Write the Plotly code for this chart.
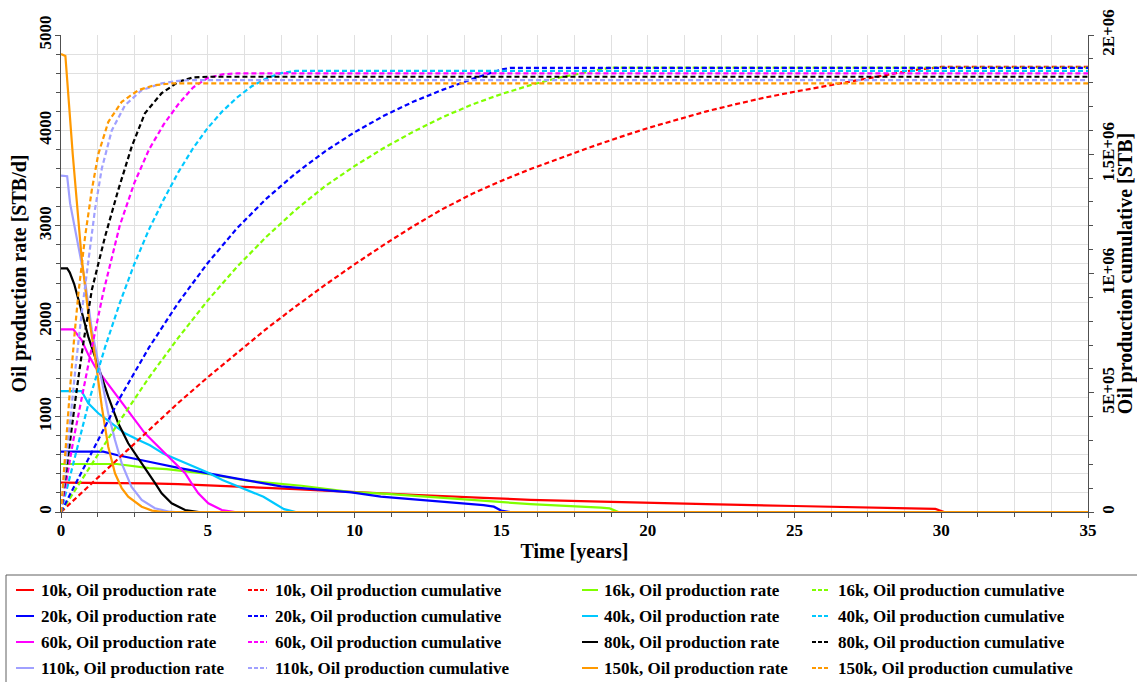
import plotly.graph_objects as go

# ---- oil production rate [STB/d] vs time [years] ----
t_10k_rate = [0, 2, 3, 4, 5, 6, 7, 8, 9, 10, 11, 12, 14.4, 16, 18.4, 20, 22, 25, 27, 29, 29.8, 30.1, 35]
r_10k = [307, 306, 301, 293, 281, 268, 255, 240, 224, 208, 195, 181, 148, 128, 108, 95, 82, 63, 52, 42, 32, 0, 0]

t_16k_rate = [0, 1.9, 3, 3.6, 5, 6.4, 8.2, 9.9, 11, 12, 14.4, 16, 18.4, 18.7, 19.0, 35]
r_16k = [503, 503, 460, 450, 400, 325, 275, 208, 192, 170, 110, 82, 45, 38, 0, 0]

t_20k_rate = [0, 1.44, 1.9, 2.8, 3.0, 4.0, 5.0, 6.0, 7.5, 8.2, 9.9, 10.9, 12, 13, 14.4, 14.75, 15.0, 15.3, 35]
r_20k = [632, 632, 597, 535, 527, 462, 410, 350, 268, 248, 205, 162, 135, 105, 73, 56, 15, 0, 0]

t_40k_rate = [0, 0.7, 0.93, 1.27, 1.73, 2.18, 2.64, 3.03, 3.5, 4.06, 4.5, 5.0, 5.5, 6.0, 6.4, 6.9, 7.25, 7.6, 8.0, 35]
r_40k = [1268, 1268, 1139, 1035, 930, 825, 755, 700, 610, 540, 480, 415, 335, 270, 225, 160, 95, 30, 0, 0]

t_60k_rate = [0, 0.42, 0.7, 0.93, 1.16, 1.5, 1.84, 2.18, 2.52, 2.86, 3.2, 3.54, 3.89, 4.23, 4.45, 4.68, 5.02, 5.48, 5.93, 35]
r_60k = [1915, 1915, 1803, 1650, 1523, 1384, 1244, 1104, 964, 825, 720, 615, 510, 406, 301, 196, 91, 21, 0, 0]

t_80k_rate = [0, 0.21, 0.3, 0.45, 0.6, 0.7, 0.93, 1.27, 1.61, 1.95, 2.29, 2.64, 2.98, 3.2, 3.43, 3.77, 4.23, 4.7, 35]
r_80k = [2554, 2554, 2510, 2390, 2220, 2100, 1838, 1523, 1209, 930, 720, 560, 410, 305, 196, 91, 21, 0, 0]

t_110k_rate = [0, 0.21, 0.31, 0.48, 0.7, 0.82, 1.05, 1.33, 1.61, 1.84, 2.07, 2.4, 2.75, 3.2, 3.7, 3.9, 35]
r_110k = [3525, 3520, 3235, 2955, 2607, 2420, 1908, 1454, 1035, 755, 510, 265, 126, 39, 3, 0, 0]

t_150k_rate = [0, 0.15, 0.4, 0.7, 0.93, 1.16, 1.39, 1.61, 1.84, 2.07, 2.29, 2.75, 3.1, 3.5, 35]
r_150k = [4800, 4780, 3750, 2676, 2083, 1628, 1104, 684, 406, 250, 160, 56, 15, 0, 0]

# ---- oil production cumulative [STB] vs time [years] ----
t_10k_cum = [0, 1, 2, 3, 4, 5, 6, 7, 8, 9, 10, 11, 12, 13, 14, 15, 16, 17, 18, 19, 20,
             21, 22, 23, 24, 25, 26, 27, 28, 29, 30, 35]
c_10k = [0, 115e3, 230e3, 345e3, 458e3, 565e3, 668e3, 768e3, 862e3, 952e3, 1038e3, 1120e3,
         1198e3, 1270e3, 1333e3, 1388e3, 1438e3, 1484e3, 1528e3, 1570e3, 1610e3, 1645e3,
         1680e3, 1710e3, 1738e3, 1762e3, 1785e3, 1808e3, 1830e3, 1852e3, 1866e3, 1866e3]

t_16k_cum = [0, 1, 1.9, 3, 4, 5, 6, 7, 8, 9, 10, 11, 12, 13, 14, 15, 16, 17, 18, 18.7, 35]
c_16k = [0, 191e3, 363e3, 564e3, 731e3, 887e3, 1028e3, 1154e3, 1267e3, 1366e3, 1450e3,
         1526e3, 1594e3, 1655e3, 1708e3, 1752e3, 1790e3, 1822e3, 1847e3, 1863e3, 1863e3]

t_20k_cum = [0, 1, 1.44, 2, 3, 4, 5, 6, 7, 8, 9, 10, 11, 12, 13, 14, 15, 15.3, 35]
c_20k = [0, 240e3, 345e3, 477e3, 690e3, 878e3, 1044e3, 1190e3, 1314e3, 1420e3, 1512e3,
         1592e3, 1661e3, 1720e3, 1770e3, 1815e3, 1855e3, 1862e3, 1862e3]

t_40k_cum = [0, 0.7, 1, 1.5, 2, 2.5, 3, 3.5, 4, 4.5, 5, 5.5, 6, 6.5, 7, 7.5, 8, 35]
c_40k = [0, 345e3, 485e3, 690e3, 875e3, 1040e3, 1185e3, 1310e3, 1425e3, 1525e3, 1610e3,
         1680e3, 1738e3, 1785e3, 1818e3, 1840e3, 1850e3, 1850e3]

t_60k_cum = [0, 0.42, 1, 1.44, 2, 2.5, 3, 3.5, 4, 4.5, 5, 5.5, 6, 35]
c_60k = [0, 300e3, 660e3, 920e3, 1200e3, 1380e3, 1520e3, 1625e3, 1710e3, 1780e3, 1820e3,
         1835e3, 1839e3, 1839e3]

t_80k_cum = [0, 0.21, 0.5, 0.75, 1.05, 1.5, 1.95, 2.41, 2.86, 3.43, 4.0, 4.5, 5, 35]
c_80k = [0, 205e3, 480e3, 700e3, 931e3, 1154e3, 1350e3, 1532e3, 1672e3, 1756e3, 1804e3,
         1822e3, 1825e3, 1825e3]

t_110k_cum = [0, 0.21, 0.5, 0.7, 0.93, 1.16, 1.39, 1.73, 2.18, 2.75, 3.43, 4.0, 4.5, 35]
c_110k = [0, 270e3, 610e3, 830e3, 1050e3, 1270e3, 1440e3, 1600e3, 1705e3, 1769e3, 1797e3,
          1808e3, 1811e3, 1811e3]

t_150k_cum = [0, 0.15, 0.3, 0.45, 0.6, 0.82, 1.05, 1.27, 1.61, 2.07, 2.64, 3.2, 3.77, 35]
c_150k = [0, 262e3, 505e3, 730e3, 925e3, 1154e3, 1350e3, 1500e3, 1635e3, 1720e3, 1769e3,
          1790e3, 1797e3, 1797e3]

cases = ["10k", "16k", "20k", "40k", "60k", "80k", "110k", "150k"]
colors = {
    "10k": "#ff0000", "16k": "#80ff00", "20k": "#0000ff", "40k": "#00c8ff",
    "60k": "#ff00ff", "80k": "#000000", "110k": "#a0a0ff", "150k": "#ff9900",
}
rate_data = {
    "10k": (t_10k_rate, r_10k), "16k": (t_16k_rate, r_16k), "20k": (t_20k_rate, r_20k),
    "40k": (t_40k_rate, r_40k), "60k": (t_60k_rate, r_60k), "80k": (t_80k_rate, r_80k),
    "110k": (t_110k_rate, r_110k), "150k": (t_150k_rate, r_150k),
}
cum_data = {
    "10k": (t_10k_cum, c_10k), "16k": (t_16k_cum, c_16k), "20k": (t_20k_cum, c_20k),
    "40k": (t_40k_cum, c_40k), "60k": (t_60k_cum, c_60k), "80k": (t_80k_cum, c_80k),
    "110k": (t_110k_cum, c_110k), "150k": (t_150k_cum, c_150k),
}

FONT = "Liberation Serif, Times New Roman, serif"
W, H = 1137, 682
L, R, T, B = 61, 49, 35, 170

fig = go.Figure()

for c in cases:
    tx, cy = cum_data[c]
    fig.add_trace(go.Scatter(x=tx, y=cy, mode="lines", yaxis="y2", showlegend=False,
                             line=dict(color=colors[c], width=2.2, dash="5px,3px"),
                             name=f"{c}, Oil production cumulative"))
for c in cases:
    tx, ry = rate_data[c]
    fig.add_trace(go.Scatter(x=tx, y=ry, mode="lines", showlegend=False,
                             line=dict(color=colors[c], width=2.2),
                             name=f"{c}, Oil production rate"))

grid = "#e0e0e0"
axis_line = "#505050"
tickfont = dict(family=FONT, size=17, color="black", weight="bold")
titlefont = dict(family=FONT, size=20, color="black", weight="bold")

fig.update_layout(
    width=W, height=H,
    margin=dict(l=L, r=R, t=T, b=B, autoexpand=False),
    paper_bgcolor="white", plot_bgcolor="white",
    showlegend=False,
    xaxis=dict(
        range=[0, 35], dtick=5, tick0=0, showline=True, linecolor=axis_line, linewidth=1,
        ticks="outside", ticklen=5, tickcolor=axis_line, showgrid=True, gridcolor=grid,
        zeroline=False, tickfont=tickfont, automargin=False, ticklabelstandoff=-2,
        minor=dict(dtick=1.25, showgrid=True, gridcolor=grid, ticks="outside", ticklen=4,
                   tickcolor=axis_line),
        title=dict(text="Time [years]", font=titlefont, standoff=4),
    ),
    yaxis=dict(
        range=[0, 5000], dtick=1000, tick0=0, showline=True, linecolor=axis_line, linewidth=1,
        ticks="outside", ticklen=5, tickcolor=axis_line, showgrid=True, gridcolor=grid,
        zeroline=False, tickfont=tickfont, tickangle=-90, automargin=False,
        ticklabelstandoff=-3,
        minor=dict(dtick=200, showgrid=True, gridcolor=grid, ticks="outside", ticklen=4,
                   tickcolor=axis_line),
        title=dict(text="Oil production rate [STB/d]", font=titlefont, standoff=4),
    ),
    yaxis2=dict(
        range=[0, 2e6], overlaying="y", side="right", showline=True, linecolor=axis_line,
        linewidth=1, ticks="outside", ticklen=5, tickcolor=axis_line, showgrid=False,
        zeroline=False, tickfont=tickfont, tickangle=-90, automargin=False,
        tickvals=[0, 5e5, 1e6, 1.5e6, 2e6],
        ticktext=["0", "5E+05", "1E+06", "1.5E+06", "2E+06"],
        minor=dict(dtick=1e5, ticks="outside", ticklen=4, tickcolor=axis_line, showgrid=False),
        title=dict(text="Oil production cumulative [STB]", font=titlefont, standoff=4),
    ),
)

# ---- legend box drawn in pixel positions converted to paper coordinates ----
pw, ph = W - L - R, H - T - B


def px(x):
    return (x - L) / pw


def py(y):
    return (H - B - y) / ph


fig.add_shape(type="rect", xref="paper", yref="paper",
              x0=px(6), x1=px(1142), y0=py(575), y1=py(700),
              line=dict(color="#606060", width=1), fillcolor="white")

legend_rows = [["10k", "16k"], ["20k", "40k"], ["60k", "80k"], ["110k", "150k"]]
row_y = [590, 616, 642, 668]
col_line = [(16, 34), (248, 267), (582, 598), (812, 830)]
col_text = [39, 273, 602, 836]

for ri, pair in enumerate(legend_rows):
    yy = row_y[ri]
    for pi, c in enumerate(pair):
        for k, kind in enumerate(["rate", "cum"]):
            ci = pi * 2 + k
            x0, x1 = col_line[ci]
            fig.add_shape(type="line", xref="paper", yref="paper",
                          x0=px(x0), x1=px(x1), y0=py(yy), y1=py(yy),
                          line=dict(color=colors[c], width=2,
                                    dash="solid" if kind == "rate" else "4px,2px"))
            label = f"{c}, Oil production rate" if kind == "rate" else f"{c}, Oil production cumulative"
            fig.add_annotation(xref="paper", yref="paper", x=px(col_text[ci]), y=py(yy),
                               text=label, showarrow=False, xanchor="left", yanchor="middle",
                               font=dict(family=FONT, size=17, color="black", weight="bold"))

fig.write_html("out.html")
